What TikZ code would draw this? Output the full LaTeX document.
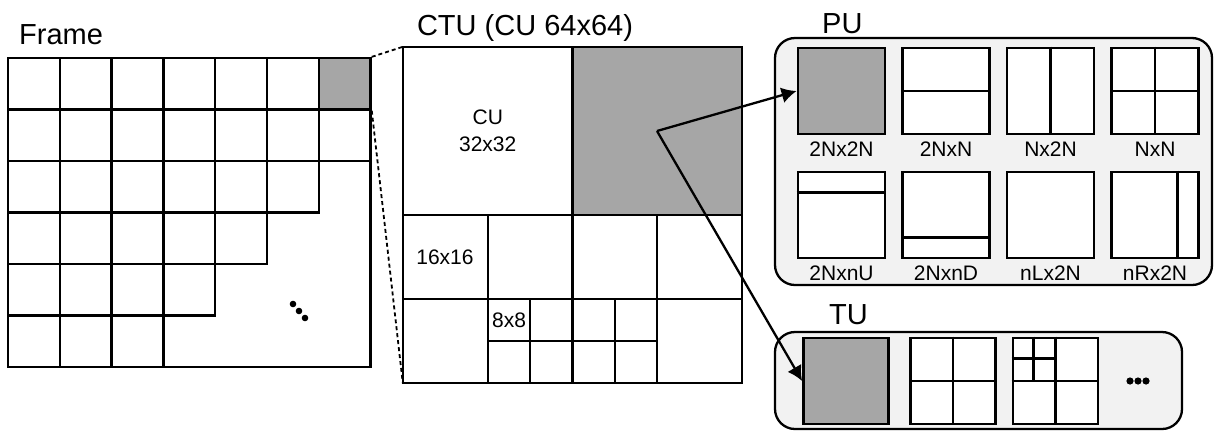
\documentclass[tikz,border=0pt]{standalone}
\usepackage{fontspec}
\setmainfont{Liberation Sans}
\usepackage{tikz}
\usetikzlibrary{arrows.meta, positioning, calc}
\definecolor{blkgray}{HTML}{A6A6A6}
\definecolor{boxgray}{HTML}{F2F2F2}

\begin{document}
\begin{tikzpicture}[x=1pt, y=-1pt,
    every node/.style={font=\fontsize{21}{27}\selectfont, inner sep=0pt},
    grade/.style={draw, line width=2.3pt},
    titulo/.style={font=\fontsize{29}{32}\selectfont, anchor=base west},
    pbox/.style={draw, line width=2.8pt, minimum width=87pt, minimum height=86pt},
    pline/.style={line width=2.8pt},
    grupo/.style={draw, line width=2.3pt, fill=boxgray, rounded corners=20pt},
    seta/.style={line width=2.3pt, -{Latex[length=15pt, width=16pt]}}]
    \useasboundingbox (0,0) rectangle (1215,432);

    % Quadro
    \node[titulo] (tframe) at (19,44) {Frame};
    \foreach \r/\n in {0/7,1/7,2/6,3/5,4/4,5/3} {
        \foreach \c in {1,...,\n}
            \draw[grade] ({8+(\c-1)*51.8},{58+\r*51.5}) rectangle ++(51.8,51.5);
    }
    \draw[grade] (8,58) rectangle (370.6,367);
    \node[grade, fill=blkgray, minimum width=51.8pt, minimum height=51.5pt] (blk) at (344.7,83.75) {};
    \foreach \k in {0,1,2}
        \fill ({293+6*\k},{304+7*\k}) circle (3.3pt);

    % CTU
    \node[titulo, anchor=base] (tctu) at (525,35) {CTU (CU 64x64)};
    \node[minimum width=339pt, minimum height=336pt] (ctu) at (572.5,215) {};
    \fill[blkgray] (ctu.north) rectangle (ctu.east);
    \draw[grade] (ctu.north west) rectangle (ctu.south east);
    \draw[grade] (ctu.north) -- (ctu.south);
    \draw[grade] (ctu.west) -- (ctu.east);
    \draw[grade] (403,299) -- (742,299);
    \foreach \x in {487.75,657.25}
        \draw[grade] (\x,215) -- (\x,383);
    \foreach \x in {530.1,614.9}
        \draw[grade] (\x,299) -- (\x,383);
    \draw[grade] (487.75,341) -- (657.25,341);
    \node[align=center] (cu32) at (487.75,131) {CU\\32x32};
    \node (c16) at (445,257) {16x16};
    \node (c8) at (509,320) {8x8};

    % ligacao quadro -> CTU
    \draw[line width=1.8pt, dash pattern=on 4pt off 3pt] (blk.north east) -- (ctu.north west);
    \draw[line width=1.8pt, dash pattern=on 4pt off 3pt] (blk.south east) -- (ctu.south west);

    % PU
    \node[titulo] (tpu) at (822,33) {PU};
    \node[grupo, minimum width=437pt, minimum height=247pt] (pubox) at (993.5,161.5) {};
    \foreach \lbl/\cor [count=\k] in {2Nx2N/blkgray, 2NxN/white, Nx2N/white, NxN/white,
                                      2NxnU/white, 2NxnD/white, nLx2N/white, nRx2N/white} {
        \pgfmathsetmacro\px{841.5+104.5*mod(\k-1,4)}
        \pgfmathsetmacro\py{91+124*floor((\k-1)/4)}
        \node[pbox, fill=\cor] (pu\k) at (\px,\py) {};
        \node (lpu\k) at (\px,{\py+58}) {\lbl};
    }
    \draw[pline] (pu2.west) -- (pu2.east);
    \draw[pline] (pu3.north) -- (pu3.south);
    \draw[pline] (pu4.west) -- (pu4.east) (pu4.north) -- (pu4.south);
    \draw[pline] ($(pu5.north west)!.25!(pu5.south west)$) -- ($(pu5.north east)!.25!(pu5.south east)$);
    \draw[pline] ($(pu6.north west)!.75!(pu6.south west)$) -- ($(pu6.north east)!.75!(pu6.south east)$);
    \draw[pline] ($(pu8.north west)!.75!(pu8.north east)$) -- ($(pu8.south west)!.75!(pu8.south east)$);

    % TU
    \node[titulo] (ttu) at (829,324) {TU};
    \node[grupo, minimum width=407pt, minimum height=97pt] (tubox) at (978.5,380.5) {};
    \foreach \nome/\x/\cor in {tu1/846/blkgray, tu2/953/white, tu3/1055.5/white}
        \node[pbox, minimum width=85pt, fill=\cor] (\nome) at (\x,381) {};
    \draw[pline] (tu2.west) -- (tu2.east) (tu2.north) -- (tu2.south);
    \draw[pline] (tu3.west) -- (tu3.east) (tu3.north) -- (tu3.south);
    \draw[pline] ($(tu3.north west)!.5!(tu3.north)$) -- ($(tu3.west)!.5!(tu3.center)$);
    \draw[pline] ($(tu3.north west)!.5!(tu3.west)$) -- ($(tu3.north)!.5!(tu3.center)$);
    \foreach \k in {0,1,2}
        \fill ({1130+8*\k},381) circle (3.6pt);

    % setas
    \coordinate (src) at (657,131);
    \draw[seta] (src) -- (pu1.west);
    \draw[seta] (src) -- (tu1.west);
\end{tikzpicture}
\end{document}
